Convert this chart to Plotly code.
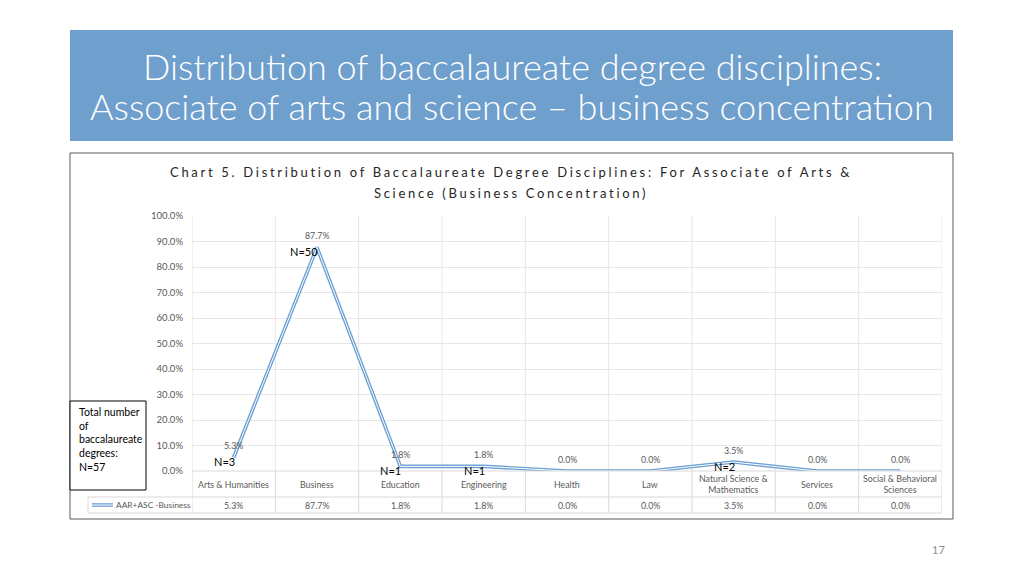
import plotly.graph_objects as go

# chart data
categories = ["Arts & Humanities", "Business", "Education", "Engineering", "Health",
              "Law", "Natural Science & Mathematics", "Services", "Social & Behavioral Sciences"]
table_labels = ["Arts & Humanities", "Business", "Education", "Engineering", "Health",
                "Law", "Natural Science &<br>Mathematics", "Services", "Social & Behavioral<br>Sciences"]
share = [0.053, 0.877, 0.018, 0.018, 0.0, 0.0, 0.035, 0.0, 0.0]
counts = [3, 50, 1, 1, 0, 0, 2, 0, 0]
total_n = 57
series_name = "AAR+ASC -Business"
y_ticks = [0, 0.1, 0.2, 0.3, 0.4, 0.5, 0.6, 0.7, 0.8, 0.9, 1.0]

W, H = 1024, 576
OFF = 8  # page body margin
def fx(px):
    return (px - OFF) / W
def fy(py):
    return 1 - (py - OFF) / H

BLUE = "#6c9fd3"
GRID = "#e6e6e6"
TABLE = "#d9d9d9"
GREY = "#595959"
FONT = "Lato"

fig = go.Figure()
# double line: wide blue with thin white core
fig.add_trace(go.Scatter(x=categories, y=share, mode="lines", line=dict(color=BLUE, width=3.6),
                         hoverinfo="skip", showlegend=False))
fig.add_trace(go.Scatter(x=categories, y=share, mode="lines", line=dict(color="white", width=1),
                         name=series_name, showlegend=False))

shapes = []
# header box
shapes.append(dict(type="rect", xref="paper", yref="paper", x0=fx(70), x1=fx(953), y0=fy(141), y1=fy(30),
                   fillcolor="#6f9fcd", line=dict(width=0), layer="below"))
# chart frame
shapes.append(dict(type="rect", xref="paper", yref="paper", x0=fx(70), x1=fx(953), y0=fy(519), y1=fy(153),
                   line=dict(color="#595959", width=1)))
# vertical grid / table columns
for i in range(len(categories) + 1):
    shapes.append(dict(type="line", xref="x", yref="paper", x0=i - 0.5, x1=i - 0.5, y0=fy(471), y1=fy(216),
                       line=dict(color=GRID, width=1), layer="below"))
    shapes.append(dict(type="line", xref="x", yref="paper", x0=i - 0.5, x1=i - 0.5, y0=fy(513), y1=fy(471),
                       line=dict(color=TABLE, width=1), layer="below"))
# table rows
for py in [471, 497, 513]:
    x0 = 192 if py == 471 else 88
    shapes.append(dict(type="line", xref="paper", yref="paper", x0=fx(x0), x1=fx(942), y0=fy(py), y1=fy(py),
                       line=dict(color=TABLE, width=1)))
shapes.append(dict(type="line", xref="paper", yref="paper", x0=fx(88), x1=fx(88), y0=fy(513), y1=fy(497),
                   line=dict(color=TABLE, width=1)))
# legend key
shapes.append(dict(type="line", xref="paper", yref="paper", x0=fx(92), x1=fx(113), y0=fy(505), y1=fy(505),
                   line=dict(color=BLUE, width=3.6)))
shapes.append(dict(type="line", xref="paper", yref="paper", x0=fx(92), x1=fx(113), y0=fy(505), y1=fy(505),
                   line=dict(color="white", width=1)))
# total box
shapes.append(dict(type="rect", xref="paper", yref="paper", x0=fx(70), x1=fx(146), y0=fy(490), y1=fy(401),
                   fillcolor="white", line=dict(color="black", width=1)))

def note(x, y, text, size, color, family=FONT, xanchor="center", yanchor="middle", weight=None, **kw):
    f = dict(family=family, size=size, color=color)
    if weight:
        f["weight"] = weight
    return dict(xref="paper", yref="paper", x=fx(x), y=fy(y), text=text, showarrow=False,
                xanchor=xanchor, yanchor=yanchor, font=f, **kw)

ann = []
ann.append(note(512, 66, "Distribution of baccalaureate degree disciplines:", 36, "white", weight=300))
ann.append(note(512, 106, "Associate of arts and science \u2013 business concentration", 36, "white", weight=300))
ann.append(note(511, 172, '<span style="letter-spacing:2.7px">Chart 5. Distribution of Baccalaureate Degree Disciplines: For Associate of Arts &</span>',
                13, "#262626"))
ann.append(note(511, 193, '<span style="letter-spacing:2.7px">Science (Business Concentration)</span>',
                13, "#262626"))
for c, lab in zip(categories, table_labels):
    ann.append(dict(xref="x", yref="paper", x=c, y=fy(484), text=lab, showarrow=False,
                    font=dict(family=FONT, size=8.8, color=GREY), yanchor="middle"))
for c, v in zip(categories, share):
    ann.append(dict(xref="x", yref="paper", x=c, y=fy(505), text="{:.1%}".format(v), showarrow=False,
                    font=dict(family=FONT, size=8.8, color=GREY), yanchor="middle"))
    # data labels above the points
    ann.append(dict(xref="x", yref="y", x=c, y=v, text="{:.1%}".format(v), showarrow=False,
                    yshift=12, yanchor="middle", font=dict(family=FONT, size=8.8, color=GREY)))
for c, v, n in zip(categories, share, counts):
    if n > 0:
        ann.append(dict(xref="x", yref="y", x=c, y=v, text="N=" + str(n), showarrow=False,
                        xanchor="right", yanchor="middle", xshift=3, yshift=-4,
                        font=dict(family=FONT, size=11, color="black")))
ann.append(note(114, 505, series_name, 8.4, GREY, xanchor="left"))
ann.append(note(77, 404, "Total number<br>of<br>baccalaureate<br>degrees:<br>N=" + str(total_n),
                10.5, "black", xanchor="left", yanchor="top", align="left"))
ann.append(note(938, 549, "17", 11, "#8c8c8c"))

fig.update_layout(
    width=W, height=H, margin=dict(l=0, r=0, t=0, b=0),
    paper_bgcolor="white", plot_bgcolor="white",
    shapes=shapes, annotations=ann,
    xaxis=dict(domain=[fx(192), fx(942)], range=[-0.5, 8.5], showticklabels=False, showgrid=False,
               zeroline=False, showline=False, fixedrange=True, automargin=False),
    yaxis=dict(domain=[fy(471), fy(216)], range=[0, 1], tickvals=y_ticks, tickformat=".1%",
               gridcolor=GRID, zeroline=False, showline=False, ticks="", automargin=False,
               tickfont=dict(family=FONT, size=9.5, color=GREY), ticklabelstandoff=8),
)

fig.write_html("out.html")
